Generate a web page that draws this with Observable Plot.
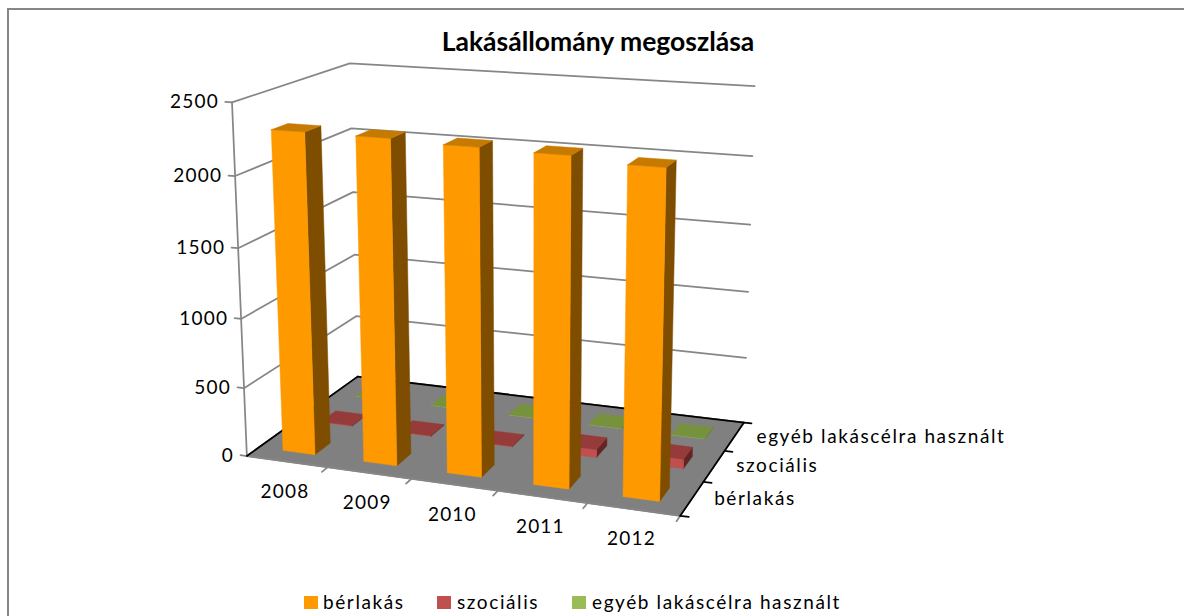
<!DOCTYPE html>
<html lang="hu">
<head>
<meta charset="utf-8">
<title>Lakásállomány megoszlása</title>
<script src="https://cdn.jsdelivr.net/npm/d3@7"></script>
<script src="https://cdn.jsdelivr.net/npm/@observablehq/plot@0.6"></script>
<style>
  html, body { margin: 0; padding: 0; background: #fff; }
  #chart { position: relative; width: 1184px; height: 616px; overflow: hidden; font-family: Lato, sans-serif; color: #000; }
  #frame { position: absolute; left: 7px; top: 8px; right: -4px; bottom: -4px; border-left: 2px solid #868686; border-top: 2px solid #868686; }
  #title { position: absolute; left: 0; width: 1196px; top: 24px; text-align: center; font-size: 26.5px; font-weight: 700; line-height: 34px; }
  #plot { position: absolute; left: 0; top: 50px; }
  #plot svg { display: block; }
  .numlabel text { letter-spacing: 1.2px; }
  .serieslabel text { letter-spacing: 1.6px; }
  .lg { position: absolute; top: 590px; font-size: 19px; line-height: 24px; letter-spacing: 1.6px; white-space: nowrap; }
  .sw { position: absolute; top: 596px; width: 14px; height: 13px; }
</style>
</head>
<body>
<div id="chart">
  <div id="frame"></div>
  <div id="title">Lakásállomány megoszlása</div>
  <div id="plot"></div>
</div>
<script>
// ---- data ----
const years = ["2008", "2009", "2010", "2011", "2012"];
const seriesNames = ["bérlakás", "szociális", "egyéb lakáscélra használt"];
const berlakas = [2295, 2293, 2276, 2266, 2232];
const szocialis = [4, 4, 4, 60, 70];
const egyeb = [2, 2, 2, 2, 2];
const yTicks = [0, 500, 1000, 1500, 2000, 2500];
const valueMax = 2500;

// ---- colours per series: front, top, side ----
const frontColors = ["#FF9900", "#C0504D", "#9BBB59"];
const topColors = ["#C67A00", "#953B39", "#76923C"];
const sideColors = ["#7F4D00", "#632523", "#4F6228"];
const gridColor = "#868686";

// ---- camera: a projective map (across, depth, value) -> page pixels,
// fitted by least squares to where the chart's box corners sit on the page
const boxFit = [
  [0,0,0,246,456],[0,0,.2,243,388],[0,0,.4,241,318],[0,0,.6,238,247],[0,0,.8,235,175],[0,0,1,232,102],
  [0,1,0,358,376],[0,1,.2,356,316],[0,1,.4,354,254],[0,1,.6,352,192],[0,1,.8,350,128],[0,1,1,349,63],
  [1,1,0,743,421],[1,1,.2,746,357],[1,1,.4,748,292],[1,1,.6,750,225],[1,1,.8,752,155],[1,1,1,754,86],
  [1,0,0,679,516]
];
function fitCamera(pts) {
  const n = 11, A = Array.from({length: n}, () => new Array(n + 1).fill(0));
  const add = (row, r) => { for (let i = 0; i < n; i++) { for (let j = 0; j < n; j++) A[i][j] += row[i] * row[j]; A[i][n] += row[i] * r; } };
  for (const [u, v, h, X, Y] of pts) {
    add([1, u, v, h, 0, 0, 0, 0, -X * u, -X * v, -X * h], X);
    add([0, 0, 0, 0, 1, u, v, h, -Y * u, -Y * v, -Y * h], Y);
  }
  for (let c = 0; c < n; c++) {
    let p = c; for (let r = c + 1; r < n; r++) if (Math.abs(A[r][c]) > Math.abs(A[p][c])) p = r;
    [A[c], A[p]] = [A[p], A[c]];
    for (let r = 0; r < n; r++) if (r !== c) { const f = A[r][c] / A[c][c]; for (let k = c; k <= n; k++) A[r][k] -= f * A[c][k]; }
  }
  return A.map((row, i) => row[n] / row[i]);
}
const cam = fitCamera(boxFit);
function project(u, v, value) {
  const h = value / valueMax;
  const w = 1 + cam[8] * u + cam[9] * v + cam[10] * h;
  return { x: (cam[0] + cam[1] * u + cam[2] * v + cam[3] * h) / w,
           y: (cam[4] + cam[5] * u + cam[6] * v + cam[7] * h) / w };
}

// ---- build faces from the data ----
const nU = years.length, nV = seriesNames.length;
const barFrac = 0.4;
const faces = [];
function face(id, color, corners) {
  for (const [u, v, val] of [...corners, corners[0]]) faces.push({ id, color, ...project(u, v, val) });
}
const allSeries = [berlakas, szocialis, egyeb];
for (let j = nV - 1; j >= 0; j--) {
  allSeries[j].forEach((val, i) => {
    const u0 = (i + (1 - barFrac) / 2) / nU, u1 = (i + (1 + barFrac) / 2) / nU;
    const v0 = (j + (1 - barFrac) / 2) / nV, v1 = (j + (1 + barFrac) / 2) / nV;
    const id = j + "-" + i;
    face(id + "side", sideColors[j], [[u1, v0, 0], [u1, v1, 0], [u1, v1, val], [u1, v0, val]]);
    face(id + "front", frontColors[j], [[u0, v0, 0], [u1, v0, 0], [u1, v0, val], [u0, v0, val]]);
    face(id + "top", topColors[j], [[u0, v0, val], [u1, v0, val], [u1, v1, val], [u0, v1, val]]);
  });
}

// floor
const floor = [[0,0,0],[1,0,0],[1,1,0],[0,1,0],[0,0,0]].map(([u, v, val]) => project(u, v, val));

// gridlines on the two walls
const walls = yTicks.flatMap(t => [[0,0,t],[0,1,t],[1,1,t]].map(([u, v, val]) => ({ t, ...project(u, v, val) })));
const segment = (id, a, b) => [{ id, ...project(...a) }, { id, ...project(...b) }];
const grayAxes = [
  ...segment("yaxis", [0, 0, 0], [0, 0, valueMax]),
  ...yTicks.flatMap(t => segment("yt" + t, [-0.016, 0, t], [0, 0, t])),
  ...segment("xaxis", [0, 0, 0], [1, 0, 0]),
  ...d3.range(1, nU + 1).flatMap(i => segment("xt" + i, [i / nU, -0.05, 0], [i / nU, 0, 0]))
];
const blackAxes = [
  ...segment("a", [0, 0, 0], [0, 1, 0]),
  ...segment("b", [0, 1, 0], [1, 1, 0]),
  ...segment("c", [1, 1, 0], [1, 0, 0]),
  ...d3.range(0, nV + 1).flatMap(i => segment("zt" + i, [1, i / nV, 0], [1.018, i / nV, 0]))
];

const yLabels = yTicks.map(t => ({ label: String(t), ...project(0, 0, t) }));
const xLabels = years.map((label, i) => ({ label, ...project((i + 0.5) / nU, 0, 0) }));
const zLabels = seriesNames.map((label, j) => ({ label, ...project(1, (j + 0.5) / nV, 0) }));

const textOpts = { x: "x", y: "y", text: "label", fontFamily: "Lato, sans-serif", fontSize: 19, fill: "#000" };

const chart = Plot.plot({
  width: 1184,
  height: 530,
  margin: 0,
  x: { domain: [0, 1184], range: [0, 1184], axis: null },
  y: { domain: [50, 580], range: [0, 530], axis: null },
  color: { type: "identity" },
  marks: [
    Plot.line(walls, { x: "x", y: "y", z: "t", stroke: gridColor, strokeWidth: 1.75 }),
    Plot.line(floor, { x: "x", y: "y", fill: "#808080", stroke: "#808080" }),
    Plot.line(grayAxes, { x: "x", y: "y", z: "id", stroke: gridColor, strokeWidth: 1.75 }),
    Plot.line(blackAxes, { x: "x", y: "y", z: "id", stroke: "#000", strokeWidth: 1.75 }),
    Plot.line(faces, { x: "x", y: "y", z: "id", fill: "color", stroke: "color", strokeWidth: 0.5 }),
    Plot.text(yLabels, { ...textOpts, textAnchor: "end", dx: -13, className: "numlabel" }),
    Plot.text(xLabels, { ...textOpts, dx: -2, dy: 30, className: "numlabel" }),
    Plot.text(zLabels, { ...textOpts, textAnchor: "start", dx: 22, className: "serieslabel" })
  ]
});
document.getElementById("plot").append(chart);

// ---- legend below the plot ----
const legendSwatchX = [304, 437, 572];
const legendTextX = [323, 457, 592];
const root = document.getElementById("chart");
seriesNames.forEach((name, j) => {
  const sw = document.createElement("div");
  sw.className = "sw"; sw.style.left = legendSwatchX[j] + "px"; sw.style.background = frontColors[j];
  const t = document.createElement("div");
  t.className = "lg"; t.style.left = legendTextX[j] + "px"; t.textContent = name;
  root.append(sw, t);
});
</script>
</body>
</html>
